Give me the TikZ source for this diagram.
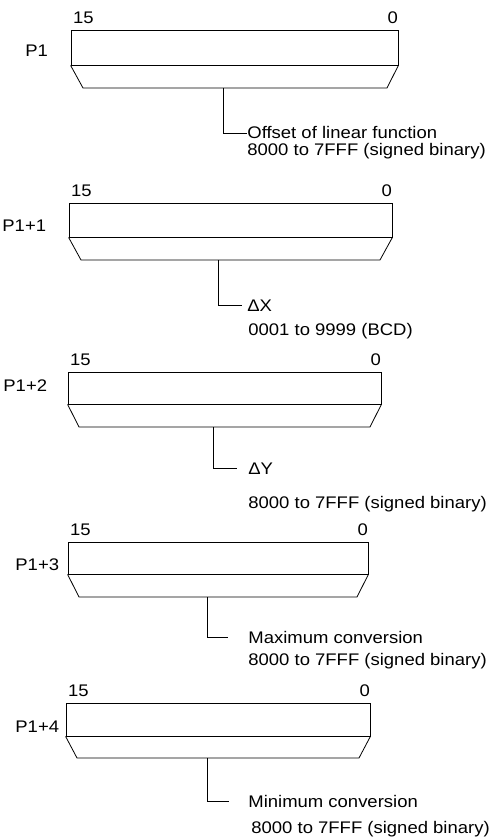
\documentclass[tikz,border=0pt]{standalone}
\usepackage{fontspec}
\setmainfont{Liberation Sans}[FakeStretch=1.1]
\usepackage{tikz}
\usetikzlibrary{positioning}

\begin{document}
\begin{tikzpicture}[
    x=1pt, y=-1pt, line width=0.8pt,
    reg/.style={rectangle, draw, inner sep=0pt},
    txt/.style={anchor=base west, inner sep=0pt, font=\fontsize{16.8}{20}\selectfont},
    bitl/.style={txt},
    bitr/.style={txt, anchor=base east}
]
\useasboundingbox (0,0) rectangle (492,837);

\node[reg, minimum width=327, minimum height=35] (r1) at (234.5,47.5) {};
\node[bitl] (h1) at ([shift={(2,-6)}]r1.north west) {15};
\node[bitr] (l1) at ([shift={(0,-6)}]r1.north east) {0};
\node[txt] (p1) at (25,57) {P1};
\draw (r1.south west) -- (83,88) -- (387,88) -- (r1.south east);
\coordinate (s1) at (223,88);
\node[txt] (d1) at (247,139) {Offset of linear function};
\node[txt] (v1) at (247,156) {8000 to 7FFF (signed binary)};
\draw (s1) |- (d1.west);

\node[reg, minimum width=323, minimum height=34] (r2) at (230.5,220) {};
\node[bitl] (h2) at ([shift={(2,-6)}]r2.north west) {15};
\node[bitr] (l2) at ([shift={(0,-6)}]r2.north east) {0};
\node[txt] (p2) at (2,231) {P1+1};
\draw (r2.south west) -- (81,260) -- (380,260) -- (r2.south east);
\coordinate (s2) at (218,260);
\node[txt] (d2) at (247,311) {ΔX};
\node[txt] (v2) at (248,335) {0001 to 9999 (BCD)};
\draw (s2) |- ([xshift=-5pt]d2.west);

\node[reg, minimum width=313, minimum height=32] (r3) at (224.5,388) {};
\node[bitl] (h3) at ([shift={(2,-6)}]r3.north west) {15};
\node[bitr] (l3) at ([shift={(0,-6)}]r3.north east) {0};
\node[txt] (p3) at (3,391) {P1+2};
\draw (r3.south west) -- (79,427) -- (370,427) -- (r3.south east);
\coordinate (s3) at (213,427);
\node[txt] (d3) at (248,474) {ΔY};
\node[txt] (v3) at (248,508) {8000 to 7FFF (signed binary)};
\draw (s3) |- ([xshift=-11pt]d3.west);

\node[reg, minimum width=300, minimum height=32] (r4) at (218,558) {};
\node[bitl] (h4) at ([shift={(2,-6)}]r4.north west) {15};
\node[bitr] (l4) at ([shift={(0,-6)}]r4.north east) {0};
\node[txt] (p4) at (15,570) {P1+3};
\draw (r4.south west) -- (79,597) -- (357,597) -- (r4.south east);
\coordinate (s4) at (207,597);
\node[txt] (d4) at (248,643) {Maximum conversion};
\node[txt] (v4) at (248,665) {8000 to 7FFF (signed binary)};
\draw (s4) |- ([xshift=-20pt]d4.west);

\node[reg, minimum width=304, minimum height=33] (r5) at (218,719.5) {};
\node[bitl] (h5) at ([shift={(2,-6)}]r5.north west) {15};
\node[bitr] (l5) at ([shift={(0,-6)}]r5.north east) {0};
\node[txt] (p5) at (15,732) {P1+4};
\draw (r5.south west) -- (77,758) -- (359,758) -- (r5.south east);
\coordinate (s5) at (207,758);
\node[txt] (d5) at (248,807) {Minimum conversion};
\node[txt] (v5) at (251,833) {8000 to 7FFF (signed binary)};
\draw (s5) |- ([xshift=-19pt]d5.west);
\end{tikzpicture}
\end{document}
